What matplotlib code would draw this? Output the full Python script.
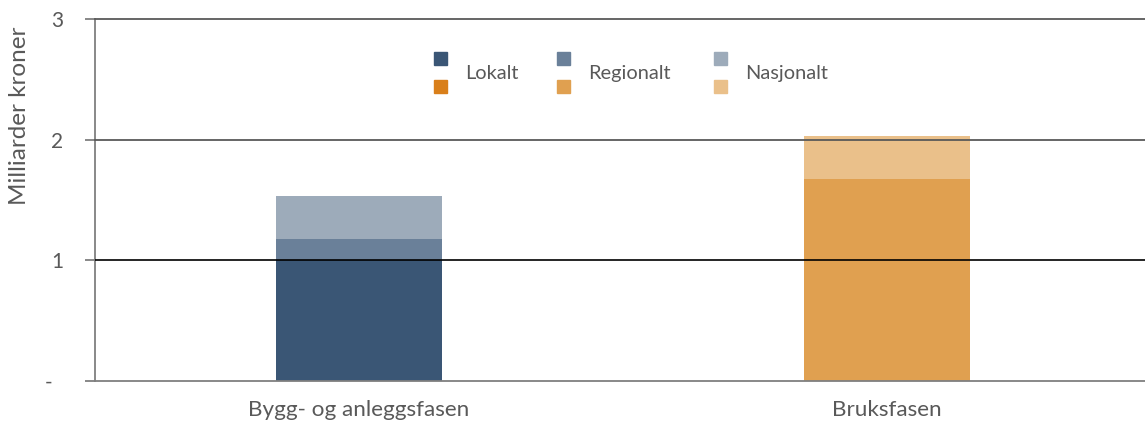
import matplotlib
matplotlib.use("Agg")
import matplotlib.pyplot as plt
from matplotlib.patches import Rectangle
import numpy as np

plt.rcParams['font.family'] = ['Lato', 'DejaVu Sans']

categories = ["Bygg- og anleggsfasen", "Bruksfasen"]
series_names = ["Lokalt", "Regionalt", "Nasjonalt"]
lokalt = [1.00, 0.0]
regionalt = [0.18, 1.67]
nasjonalt = [0.355, 0.36]
yticks = [0, 1, 2, 3]
ytick_labels = ["-  ", "1", "2", "3"]

blue_colors = ["#3A5675", "#6A8099", "#9DABBA"]
orange_colors = ["#D97F1A", "#E0A050", "#EAC08A"]
text_color = "#595959"

fig = plt.figure(figsize=(11.45, 4.26), dpi=100)
ax = fig.add_axes([95/1145, 45/426, 1.0 - 95/1145, 362/426])

x = np.arange(len(categories))
width = 0.314
data = [lokalt, regionalt, nasjonalt]
bottoms = np.zeros(len(categories))
for s, vals in enumerate(data):
    vals = np.array(vals)
    cols = [blue_colors[s], orange_colors[s]]
    ax.bar(x, vals, width, bottom=bottoms, color=cols, zorder=1, linewidth=0)
    bottoms = bottoms + vals

ax.set_xlim(-0.5, 1.489)
ax.set_ylim(0, 3)

for yv in [2, 3]:
    ax.axhline(yv, color="#595959", lw=1.3, zorder=3, clip_on=False)
ax.axhline(1, color="#000000", lw=1.2, zorder=3)
for s in ["top", "right"]:
    ax.spines[s].set_visible(False)
for s in ["left", "bottom"]:
    ax.spines[s].set_color("#7F7F7F")
    ax.spines[s].set_linewidth(1.3)

ax.set_yticks(yticks)
ax.set_yticklabels(ytick_labels)
ax.tick_params(axis='y', length=7, width=1.3, color="#7F7F7F", pad=16,
               labelsize=15, labelcolor=text_color)
ax.set_xticks(x)
ax.set_xticklabels(categories)
ax.tick_params(axis='x', length=0, pad=14, labelsize=16.2, labelcolor=text_color)

ax.set_ylabel("Milliarder kroner", fontsize=17.5, color=text_color)
ax.yaxis.set_label_coords(-0.062, 0.732)

# custom legend: two squares per entry (blue over orange)
leg_x = [434, 557, 714]
for i, name in enumerate(series_names):
    px = leg_x[i]
    for j, col in enumerate([blue_colors[i], orange_colors[i]]):
        y_top = 52 if j == 0 else 80
        fig.patches.append(Rectangle((px/1145, 1 - (y_top + 13)/426), 13/1145, 13/426,
                                     transform=fig.transFigure, color=col, zorder=5))
    fig.text((px + 31)/1145, 1 - 79/426, name, fontsize=14.4, color=text_color,
             va='baseline', ha='left')

fig.savefig("out.png", dpi=100)
